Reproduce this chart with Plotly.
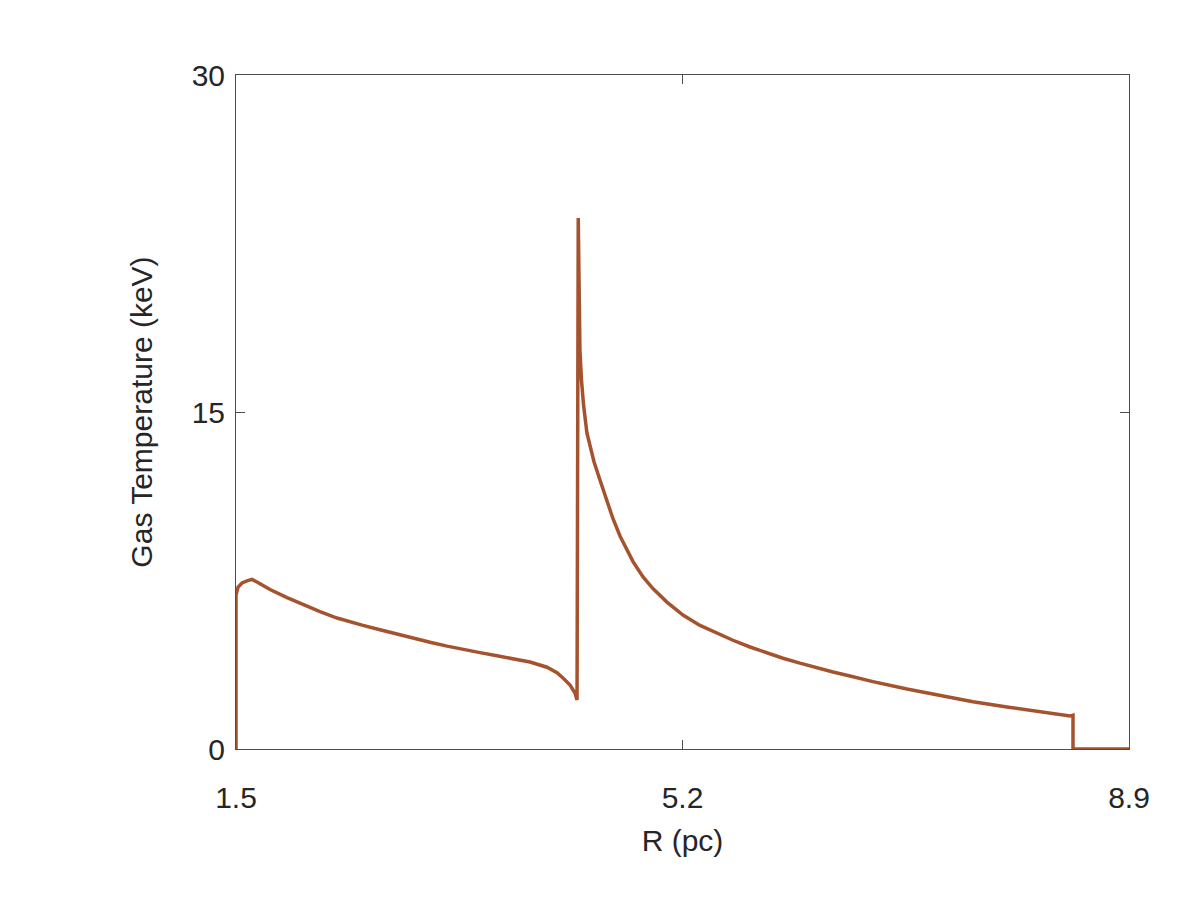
import plotly.graph_objects as go

# Radius (pc) and gas temperature (keV)
r_pc = [1.500, 1.500, 1.517, 1.550, 1.591, 1.633, 1.674, 1.724, 1.782, 1.923,
        2.055, 2.196, 2.337, 2.420, 2.552, 2.693, 2.834, 2.967, 3.108, 3.249,
        3.381, 3.522, 3.663, 3.795, 3.936, 4.077, 4.160, 4.210, 4.268, 4.309,
        4.326,
        4.336, 4.340, 4.350, 4.363, 4.380, 4.408, 4.440, 4.466, 4.516, 4.574, 4.624,
        4.682, 4.740, 4.790, 4.873, 4.955, 5.071, 5.204, 5.345, 5.486, 5.618,
        5.759, 5.900, 6.033, 6.173, 6.314, 6.447, 6.588, 6.778, 7.060, 7.333,
        7.607, 7.889, 8.162, 8.411, 8.436, 8.436, 8.900]
temp_kev = [0.00, 6.85, 7.21, 7.39, 7.48, 7.55, 7.43, 7.27, 7.10, 6.74,
            6.42, 6.11, 5.83, 5.69, 5.50, 5.31, 5.11, 4.93, 4.75, 4.58,
            4.43, 4.29, 4.15, 4.02, 3.87, 3.64, 3.40, 3.16, 2.85, 2.49,
            2.18,
            23.63, 20.43, 17.76, 16.42, 15.31, 14.07, 13.30, 12.80, 11.97, 11.08, 10.25,
            9.48, 8.86, 8.34, 7.66, 7.14, 6.54, 5.96, 5.50, 5.14, 4.84,
            4.54, 4.27, 4.04, 3.82, 3.61, 3.43, 3.25, 3.00, 2.67, 2.37,
            2.10, 1.87, 1.66, 1.47, 1.50, 0.00, 0.00]

x_ticks = [1.5, 5.2, 8.9]
x_tick_text = ["1.5", "5.2", "8.9"]
y_ticks = [0, 15, 30]
y_tick_text = ["0", "15", "30"]

font_family = "Liberation Sans, Arial, sans-serif"
text_color = "#262626"
axis_color = "#4d4d4d"

fig = go.Figure()
fig.add_trace(go.Scatter(
    x=r_pc, y=temp_kev, mode="lines",
    line=dict(color="#a5532e", width=3.5),
    showlegend=False,
))

fig.update_layout(
    width=1200, height=900,
    margin=dict(l=236, r=71, t=75, b=151),
    paper_bgcolor="white", plot_bgcolor="white",
    font=dict(family=font_family, size=30, color=text_color),
)
fig.update_xaxes(
    range=[1.5, 8.9], tickvals=x_ticks, ticktext=x_tick_text,
    showgrid=False, zeroline=False,
    showline=True, linecolor=axis_color, linewidth=1, mirror="ticks",
    ticks="inside", ticklen=9, tickcolor=axis_color,
    ticklabelstandoff=22,
    tickfont=dict(size=30, color=text_color),
    title=dict(text="R (pc)", font=dict(size=30, color=text_color), standoff=16),
)
fig.update_yaxes(
    range=[0, 30], tickvals=y_ticks, ticktext=y_tick_text,
    showgrid=False, zeroline=False,
    showline=True, linecolor=axis_color, linewidth=1, mirror="ticks",
    ticks="inside", ticklen=9, tickcolor=axis_color,
    ticklabelstandoff=4,
    tickfont=dict(size=30, color=text_color),
    title=dict(text="Gas Temperature (keV)", font=dict(size=30, color=text_color), standoff=30),
)

fig.write_html("out.html")
